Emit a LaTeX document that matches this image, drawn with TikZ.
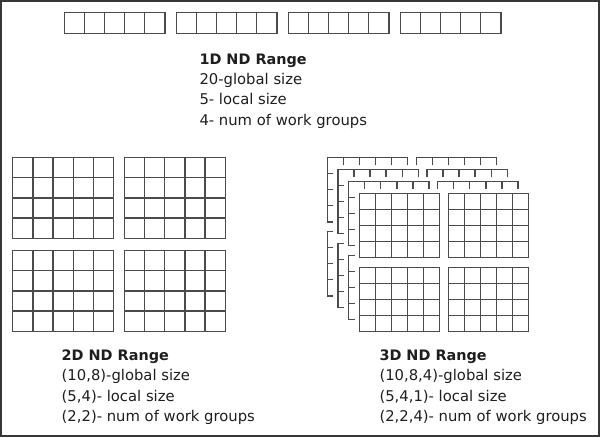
\documentclass[tikz,border=0pt]{standalone}
\usepackage{fontspec}
\usepackage{xcolor}
\usepackage{tikz}
\usetikzlibrary{positioning,calc}
\newfontfamily\rangefont{DejaVu Sans}
\definecolor{gridgray}{RGB}{75,75,75}
\definecolor{framegray}{RGB}{55,55,55}
\definecolor{textgray}{RGB}{30,30,30}
\tikzset{
  gridline/.style={draw=gridgray, line width=1.4pt},
  frameline/.style={draw=framegray, line width=1.6pt},
  rangetext/.style={anchor=base west, inner sep=0pt, text=textgray, font=\rangefont\fontsize{14.8}{20}\selectfont},
  rangetitle/.style={rangetext, font=\rangefont\fontsize{14.4}{20}\selectfont\bfseries}
}
% one block of work items: left, top, columns, rows, cell width, cell height
\newcommand{\wgrid}[6]{%
  \draw[gridline] (#1,#2) rectangle ++({#3*#5},{#4*#6});
  \foreach \wc in {1,...,#3}{\draw[gridline] ({#1+\wc*#5},#2) -- ++(0,{#4*#6});}
  \foreach \wr in {1,...,#4}{\draw[gridline] (#1,{#2+\wr*#6}) -- ++({#3*#5},0);}
}
\begin{document}
\begin{tikzpicture}[x=1pt, y=-1pt]
\useasboundingbox (0,0) rectangle (600,437);
\draw[frameline] (0.8,0.8) rectangle (598.8,435.8);
% 1D
\foreach \gx in {64.3,176.3,288.3,400.3}{\wgrid{\gx}{12.7}{5}{1}{20.1}{20.6}}
\node[rangetitle] (r1title) at (199.3,64.3) {1D ND Range};
\node[rangetext] (r1glob) at (199.3,84.5) {20-global size};
\node[rangetext] (r1loc) at (199.3,104.7) {5- local size};
\node[rangetext] (r1grp) at (199.3,125) {4- num of work groups};
% 2D
\foreach \gx/\gy in {12.7/157.3,124.3/157.3,12.7/250.3,124.3/250.3}{\wgrid{\gx}{\gy}{5}{4}{20.2}{20.25}}
\node[rangetitle] (r2title) at (61.5,360.7) {2D ND Range};
\node[rangetext] (r2glob) at (61.5,380.9) {(10,8)-global size};
\node[rangetext] (r2loc) at (61.5,401.1) {(5,4)- local size};
\node[rangetext] (r2grp) at (61.5,421.3) {(2,2)- num of work groups};
% 3D, back layers first, each one a white plate hiding the ones behind
\foreach \d in {3,2,1,0}{
  \pgfmathsetmacro\px{359.3-\d*10.7}
  \pgfmathsetmacro\py{193.3-\d*11.9}
  \fill[white] ({\px-4.5},{\py-4.5}) rectangle ({\px+169.4},{\py+138.8});
  \foreach \gx/\gy in {0/0,89/0,0/74,89/74}{
    \wgrid{\px+\gx}{\py+\gy}{5}{4}{16.08}{16.05}
  }
}
\node[rangetitle] (r3title) at (379.3,360.7) {3D ND Range};
\node[rangetext] (r3glob) at (379.3,380.9) {(10,8,4)-global size};
\node[rangetext] (r3loc) at (379.3,401.1) {(5,4,1)- local size};
\node[rangetext] (r3grp) at (379.3,421.3) {(2,2,4)- num of work groups};
\end{tikzpicture}
\end{document}
